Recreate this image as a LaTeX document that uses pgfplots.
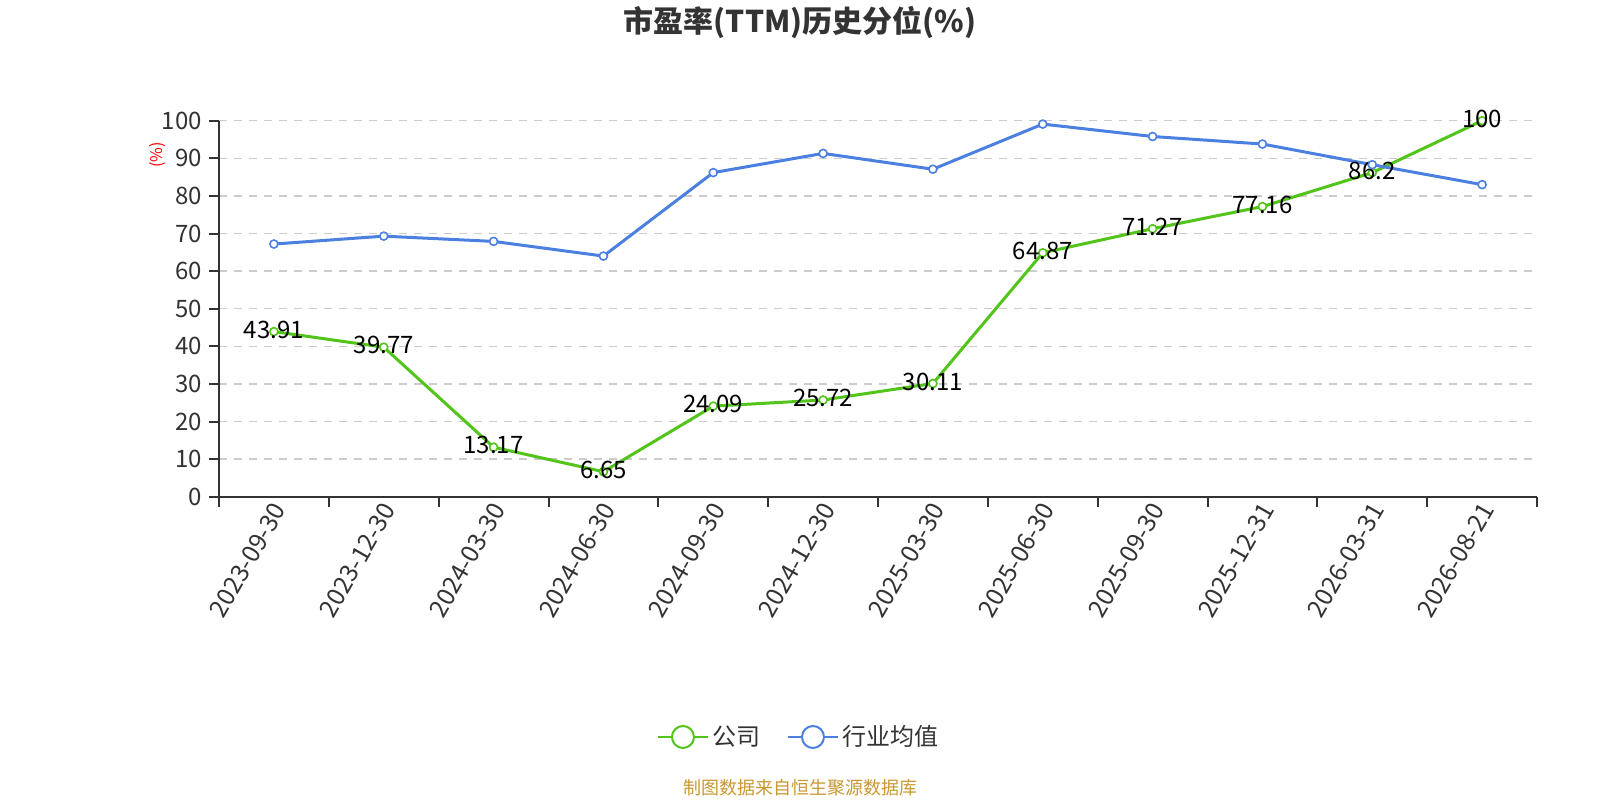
\documentclass[border=0pt]{standalone}
\usepackage{pgfplots}
\pgfplotsset{compat=1.18}
\usepackage{fontspec}
\setmainfont{Noto Sans CJK SC}
\definecolor{cgreen}{HTML}{52C41A}
\definecolor{cblue}{HTML}{4C80E0}
\definecolor{ctext}{HTML}{333333}
\definecolor{cgrid}{HTML}{CCCCCC}
\definecolor{cfoot}{HTML}{C9972F}
\begin{document}
\begin{tikzpicture}
\useasboundingbox (0,0) rectangle (800pt,-400pt);
\node[font=\fontsize{15}{17}\selectfont\bfseries, text=ctext] at (400pt,-11.2pt) {市盈率(TTM)历史分位(\%)};
\node[font=\fontsize{9}{11}\selectfont, text=cfoot] at (400pt,-394pt) {制图数据来自恒生聚源数据库};
\begin{axis}[
 at={(109.5pt,-248.35pt)}, anchor=south west,
 scale only axis, width=659pt, height=188pt,
 xmin=-0.5, xmax=11.5, ymin=0, ymax=100,
 axis x line*=bottom, axis y line*=left,
 axis line style={ctext, line width=1pt, -},
 xtick={-0.5,0.5,...,11.5},
 xticklabels={},
 extra x ticks={0,1,...,11},
 extra x tick labels={2023-09-30,2023-12-30,2024-03-30,2024-06-30,2024-09-30,2024-12-30,2025-03-30,2025-06-30,2025-09-30,2025-12-31,2026-03-31,2026-08-21},
 extra x tick style={major tick length=0pt, tick label style={rotate=60, anchor=east, font=\fontsize{12.3}{14}\selectfont, text=ctext, yshift=-4.5pt, xshift=1pt}},
 tick style={ctext, line width=1pt},
 major tick length=5pt,
 tick align=outside,
 ytick={0,10,...,100},
 y tick label style={font=\fontsize{12}{14}\selectfont, text=ctext},
 ymajorgrids, major grid style={cgrid, dash pattern=on 4pt off 3.5pt, line width=0.7pt},
 /pgf/number format/assume math mode=true,
 ylabel={(\%)}, ylabel style={at={(axis description cs:-0.0468,0.909)}, anchor=center, font=\fontsize{8}{9}\selectfont, text=red},
 legend style={at={(axis description cs:0.4408,-0.639)}, anchor=center, draw=none, fill=none, legend columns=-1, font=\fontsize{12}{14}\selectfont, text=ctext, /tikz/every even column/.append style={column sep=11pt}},
 legend image code/.code={\draw[#1, line width=1pt] (0pt,0pt) -- (25pt,0pt); \draw[#1, line width=1pt, fill=white] (12.5pt,0pt) circle (5.5pt);},
 clip=false,
]
\addplot[cgreen, line width=1.5pt, mark=*, mark size=2pt, mark options={fill=white, line width=0.8pt},
 nodes near coords, point meta=explicit symbolic,
 nodes near coords style={text=black, font=\fontsize{12}{14}\selectfont, anchor=center, yshift=1pt}]
 coordinates {(0,43.91)[43.91] (1,39.77)[39.77] (2,13.17)[13.17] (3,6.65)[6.65] (4,24.09)[24.09] (5,25.72)[25.72] (6,30.11)[30.11] (7,64.87)[64.87] (8,71.27)[71.27] (9,77.16)[77.16] (10,86.2)[86.2] (11,100)[100]};
\addlegendentry{公司}
\addplot[cblue, line width=1.5pt, mark=*, mark size=2pt, mark options={fill=white, line width=0.8pt}]
 coordinates {(0,67.2) (1,69.3) (2,67.9) (3,64.0) (4,86.2) (5,91.3) (6,87.1) (7,99.1) (8,95.8) (9,93.8) (10,88.3) (11,83.0)};
\addlegendentry{行业均值}
\end{axis}
\end{tikzpicture}
\end{document}
